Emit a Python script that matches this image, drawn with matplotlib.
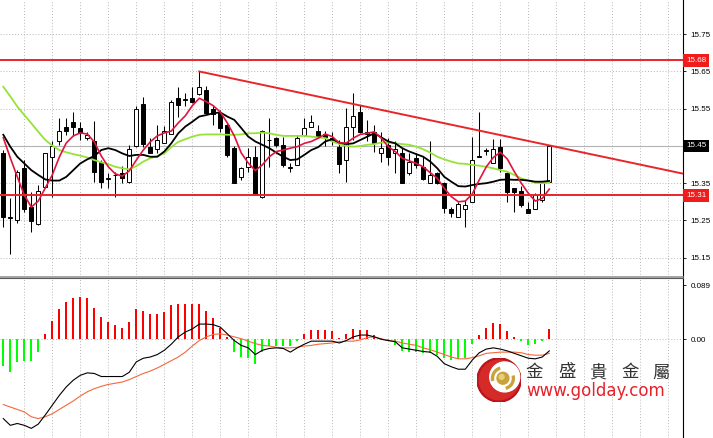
import numpy as np
import matplotlib
matplotlib.use('Agg')
import matplotlib.pyplot as plt
from matplotlib.patches import Rectangle, Circle, Arc

# candle data (one bar per slot)
opens = [15.432, 15.256, 15.251, 15.392, 15.287, 15.240, 15.341, 15.420, 15.462, 15.502,
         15.515, 15.499, 15.471, 15.462, 15.408, 15.362, 15.371, 15.377, 15.352, 15.450,
         15.562, 15.446, 15.441, 15.459, 15.482, 15.578, 15.573, 15.578, 15.589, 15.600,
         15.549, 15.538, 15.506, 15.445, 15.367, 15.394, 15.421, 15.312, 15.465, 15.472,
         15.453, 15.392, 15.399, 15.480, 15.502, 15.490, 15.482, 15.469, 15.448, 15.411,
         15.502, 15.542, 15.482, 15.488, 15.430, 15.453, 15.430, 15.430, 15.377, 15.417,
         15.394, 15.351, 15.377, 15.350, 15.280, 15.260, 15.280, 15.300, 15.420, 15.436,
         15.403, 15.448, 15.377, 15.336, 15.329, 15.280, 15.280, 15.305, 15.354]
highs = [15.439, 15.310, 15.385, 15.412, 15.327, 15.345, 15.432, 15.462, 15.524, 15.524,
         15.540, 15.515, 15.488, 15.518, 15.412, 15.377, 15.381, 15.396, 15.453, 15.556,
         15.581, 15.471, 15.506, 15.504, 15.574, 15.609, 15.592, 15.607, 15.650, 15.611,
         15.556, 15.547, 15.511, 15.450, 15.394, 15.444, 15.450, 15.493, 15.524, 15.475,
         15.475, 15.403, 15.480, 15.524, 15.533, 15.506, 15.491, 15.488, 15.466, 15.551,
         15.592, 15.560, 15.520, 15.506, 15.488, 15.471, 15.462, 15.444, 15.430, 15.430,
         15.421, 15.462, 15.381, 15.354, 15.287, 15.300, 15.305, 15.475, 15.542, 15.444,
         15.468, 15.468, 15.381, 15.336, 15.342, 15.300, 15.323, 15.350, 15.450]
lows = [15.233, 15.160, 15.243, 15.273, 15.220, 15.238, 15.336, 15.314, 15.453, 15.480,
        15.477, 15.466, 15.466, 15.354, 15.336, 15.336, 15.314, 15.350, 15.350, 15.447,
        15.448, 15.430, 15.430, 15.457, 15.482, 15.527, 15.558, 15.565, 15.587, 15.538,
        15.506, 15.488, 15.421, 15.350, 15.359, 15.381, 15.318, 15.309, 15.394, 15.448,
        15.394, 15.381, 15.399, 15.477, 15.502, 15.471, 15.450, 15.453, 15.377, 15.354,
        15.466, 15.486, 15.462, 15.435, 15.408, 15.399, 15.377, 15.350, 15.372, 15.390,
        15.359, 15.350, 15.348, 15.269, 15.260, 15.260, 15.233, 15.300, 15.421, 15.426,
        15.403, 15.381, 15.300, 15.273, 15.287, 15.271, 15.280, 15.300, 15.354]
closes = [15.258, 15.260, 15.379, 15.281, 15.248, 15.329, 15.430, 15.450, 15.490, 15.490,
          15.502, 15.484, 15.480, 15.381, 15.354, 15.364, 15.373, 15.363, 15.441, 15.549,
          15.455, 15.430, 15.466, 15.490, 15.569, 15.560, 15.575, 15.569, 15.609, 15.538,
          15.536, 15.498, 15.426, 15.351, 15.390, 15.421, 15.318, 15.490, 15.467, 15.453,
          15.399, 15.394, 15.471, 15.498, 15.515, 15.473, 15.473, 15.471, 15.402, 15.502,
          15.531, 15.488, 15.488, 15.457, 15.444, 15.421, 15.441, 15.350, 15.408, 15.399,
          15.361, 15.372, 15.351, 15.283, 15.269, 15.294, 15.291, 15.412, 15.422, 15.438,
          15.441, 15.390, 15.327, 15.327, 15.291, 15.271, 15.318, 15.350, 15.449]

# moving averages
ma_red = [15.472, 15.418, 15.367, 15.318, 15.286, 15.302, 15.337, 15.372, 15.420, 15.458,
          15.477, 15.485, 15.482, 15.461, 15.423, 15.394, 15.375, 15.369, 15.383, 15.412,
          15.439, 15.461, 15.477, 15.485, 15.490, 15.512, 15.531, 15.558, 15.578, 15.569,
          15.558, 15.541, 15.512, 15.477, 15.431, 15.404, 15.384, 15.399, 15.421, 15.435,
          15.439, 15.444, 15.448, 15.457, 15.462, 15.471, 15.482, 15.475, 15.458, 15.458,
          15.471, 15.481, 15.484, 15.488, 15.471, 15.448, 15.435, 15.417, 15.410, 15.403,
          15.394, 15.378, 15.363, 15.336, 15.314, 15.300, 15.302, 15.321, 15.359, 15.394,
          15.419, 15.433, 15.415, 15.381, 15.350, 15.323, 15.302, 15.309, 15.334]
ma_black = [15.480, 15.448, 15.421, 15.403, 15.385, 15.372, 15.360, 15.357, 15.357, 15.367,
            15.385, 15.403, 15.414, 15.423, 15.439, 15.444, 15.439, 15.430, 15.423, 15.426,
            15.426, 15.421, 15.421, 15.435, 15.457, 15.484, 15.502, 15.515, 15.529, 15.533,
            15.538, 15.540, 15.529, 15.520, 15.498, 15.475, 15.462, 15.453, 15.444, 15.432,
            15.421, 15.412, 15.414, 15.426, 15.439, 15.447, 15.462, 15.468, 15.459, 15.455,
            15.457, 15.466, 15.475, 15.484, 15.473, 15.462, 15.457, 15.444, 15.435, 15.428,
            15.421, 15.408, 15.390, 15.367, 15.354, 15.342, 15.341, 15.345, 15.348, 15.350,
            15.354, 15.359, 15.360, 15.359, 15.359, 15.357, 15.354, 15.354, 15.356]
ma_green = [15.609, 15.583, 15.556, 15.533, 15.511, 15.488, 15.466, 15.451, 15.439, 15.433,
            15.428, 15.424, 15.419, 15.412, 15.406, 15.401, 15.394, 15.390, 15.387, 15.396,
            15.408, 15.417, 15.423, 15.430, 15.447, 15.461, 15.468, 15.475, 15.480, 15.481,
            15.481, 15.481, 15.480, 15.480, 15.481, 15.484, 15.484, 15.486, 15.484, 15.480,
            15.477, 15.477, 15.477, 15.477, 15.475, 15.473, 15.471, 15.462, 15.455, 15.450,
            15.448, 15.450, 15.453, 15.455, 15.459, 15.459, 15.457, 15.455, 15.453, 15.448,
            15.441, 15.432, 15.421, 15.414, 15.408, 15.403, 15.402, 15.399, 15.397, 15.394,
            15.390, 15.385, 15.381, 15.372, 15.363, 15.357, 15.351, 15.350, 15.351]

# MACD panel
macd_hist = [-0.044, -0.054, -0.037, -0.036, -0.036, -0.021, 0.008, 0.030, 0.049, 0.061,
             0.068, 0.069, 0.068, 0.052, 0.037, 0.028, 0.023, 0.019, 0.028, 0.049,
             0.047, 0.042, 0.042, 0.044, 0.056, 0.058, 0.058, 0.058, 0.058, 0.046,
             0.035, 0.019, 0.003, -0.021, -0.029, -0.030, -0.041, -0.021, -0.011, -0.011,
             -0.011, -0.011, -0.003, 0.008, 0.015, 0.015, 0.015, 0.014, 0.002, 0.009,
             0.017, 0.015, 0.015, 0.007, 0.002, -0.003, -0.010, -0.019, -0.020, -0.021,
             -0.022, -0.023, -0.026, -0.031, -0.034, -0.033, -0.030, -0.008, 0.007, 0.019,
             0.027, 0.025, 0.014, 0.004, -0.003, -0.010, -0.008, -0.003, 0.017]
macd_main = [-0.130, -0.141, -0.138, -0.141, -0.146, -0.139, -0.124, -0.108, -0.092, -0.078,
             -0.067, -0.059, -0.055, -0.056, -0.061, -0.061, -0.061, -0.061, -0.054, -0.037,
             -0.031, -0.029, -0.025, -0.018, -0.008, 0.004, 0.012, 0.017, 0.025, 0.025,
             0.024, 0.020, 0.009, -0.002, -0.010, -0.014, -0.025, -0.018, -0.015, -0.014,
             -0.015, -0.021, -0.014, -0.008, -0.003, -0.003, -0.003, -0.003, -0.006, -0.002,
             0.004, 0.007, 0.007, 0.004, 0.000, -0.002, -0.004, -0.014, -0.016, -0.018,
             -0.020, -0.021, -0.028, -0.040, -0.045, -0.049, -0.049, -0.034, -0.022, -0.016,
             -0.014, -0.016, -0.019, -0.023, -0.027, -0.031, -0.032, -0.029, -0.019]
macd_signal = [-0.107, -0.111, -0.115, -0.119, -0.127, -0.130, -0.127, -0.122, -0.115, -0.108,
               -0.101, -0.093, -0.086, -0.081, -0.077, -0.074, -0.072, -0.070, -0.066, -0.061,
               -0.056, -0.052, -0.047, -0.041, -0.035, -0.029, -0.021, -0.011, -0.002, 0.004,
               0.008, 0.009, 0.007, 0.004, 0.001, -0.003, -0.007, -0.010, -0.011, -0.013,
               -0.014, -0.014, -0.013, -0.011, -0.010, -0.008, -0.007, -0.006, -0.004, -0.003,
               -0.003, -0.001, 0.003, 0.004, 0.001, -0.002, -0.003, -0.006, -0.008, -0.010,
               -0.014, -0.017, -0.021, -0.025, -0.029, -0.032, -0.032, -0.030, -0.027, -0.023,
               -0.022, -0.021, -0.021, -0.021, -0.022, -0.025, -0.026, -0.026, -0.023]

price_ticks = [15.15, 15.25, 15.35, 15.45, 15.55, 15.65, 15.75]
resist_level = 15.68
support_level = 15.317
last_price = 15.45
trend_x = [28, 97]
trend_y = [15.650, 15.376]
macd_ticks = [0.0, 0.089]
macd_labels = ['0.00', '0.089']

W, H = 713, 438
fig = plt.figure(figsize=(W / 100, H / 100), dpi=100)
fig.patch.set_facecolor('white')

plot_w = 683 / W
ax = fig.add_axes([0, 1 - 277 / H, plot_w, 277 / H])
mx = fig.add_axes([0, 0, plot_w, 159 / H])

x = np.arange(len(closes))
grid_x = np.arange(3, 97, 4)
lab_font = dict(family='Liberation Sans', size=5.8)

for a in (ax, mx):
    a.set_xlim(-0.47, 97.1)
    a.set_facecolor('white')
    for s in ('left', 'top', 'bottom'):
        a.spines[s].set_visible(False)
    a.spines['right'].set_color('black')
    a.spines['right'].set_linewidth(0.8)
    a.set_xticks(grid_x)
    a.tick_params(axis='x', length=0, labelbottom=False)
    a.xaxis.grid(True, color='#b8b8b8', ls=(0, (1, 2)), lw=0.7)
    a.yaxis.tick_right()
    a.tick_params(axis='y', length=2.5, width=0.6, pad=3, labelsize=5.8)

# ---- price panel ----
ax.set_ylim(15.098, 15.842)
ax.set_yticks(price_ticks)
# the current-price box carries the 15.45 text
ax.set_yticklabels(['' if p == last_price else '%.2f' % p for p in price_ticks],
                   fontfamily='Liberation Sans')
ax.yaxis.grid(True, color='#b8b8b8', ls=(0, (1, 2)), lw=0.7)
ax.set_axisbelow(True)

ax.axhline(last_price, color='#b4b4b4', lw=0.8, zorder=1)

for i in x:
    o, h, l, c = opens[i], highs[i], lows[i], closes[i]
    ax.vlines(i, l, h, color='black', lw=0.75, zorder=2)
    face = 'white' if c >= o else 'black'
    ax.add_patch(Rectangle((i - 0.29, min(o, c)), 0.58, max(abs(c - o), 0.0008),
                           facecolor=face, edgecolor='black', lw=0.7, zorder=3))

ax.plot(x, ma_green, color='#96e336', lw=1.3, zorder=4)
ax.plot(x, ma_black, color='black', lw=1.3, zorder=5)
ax.plot(x, ma_red, color='#e0143c', lw=1.2, zorder=6)

ax.axhline(resist_level, color='#e8262a', lw=1.4, zorder=7)
ax.axhline(support_level, color='#e8262a', lw=1.4, zorder=7)
ax.plot(trend_x, trend_y, color='#e8262a', lw=1.4, zorder=7, clip_on=False)

ytr = ax.get_yaxis_transform()
for val, txt, bg in [(resist_level, '15.68', '#f01c1c'),
                     (support_level, '15.31', '#f01c1c'),
                     (last_price, '15.45', 'black')]:
    ax.text(1.0045, val, txt, transform=ytr, ha='left', va='center', color='white',
            fontdict=lab_font, zorder=10, clip_on=False,
            bbox=dict(boxstyle='square,pad=0.35', fc=bg, ec='none'))

# ---- MACD panel ----
mx.set_ylim(-0.1618, 0.0989)
mx.set_yticks(macd_ticks)
mx.set_yticklabels(macd_labels, fontfamily='Liberation Sans')
mx.axhline(0, color='#b8b8b8', ls=(0, (1, 2)), lw=0.7, zorder=1)
bar_colors = ['#ff0000' if v >= 0 else '#00ff00' for v in macd_hist]
mx.bar(x, macd_hist, width=0.34, color=bar_colors, zorder=2)
mx.plot(x, macd_signal, color='#f4683c', lw=0.8, zorder=3)
mx.plot(x, macd_main, color='black', lw=0.8, zorder=4)

# panel separator
fig.add_artist(plt.Line2D([0, plot_w], [1 - 276.5 / H] * 2, color='#8c8c8c', lw=1.1))
fig.add_artist(plt.Line2D([0, plot_w], [1 - 278.3 / H] * 2, color='#5a5a5a', lw=0.8))

# ---- watermark logo ----
logo = fig.add_axes([477 / W, 1 - 402 / H, 44 / W, 44 / H])
logo.set_xlim(-1, 1)
logo.set_ylim(-1, 1)
logo.set_aspect('equal')
logo.axis('off')
logo.add_patch(Circle((0, 0), 1.0, color='#b9141c'))
logo.add_patch(Circle((0.0, 0.0), 0.9, color='#d42a28'))
logo.add_patch(Circle((0.26, 0.14), 0.68, color='white'))
logo.add_patch(Circle((0.18, 0.08), 0.27, color='#c9a23a'))
logo.add_patch(Circle((0.12, 0.14), 0.11, color='#e6cf7a'))
logo.add_patch(Arc((0.18, 0.08), 0.95, 0.95, theta1=105, theta2=195, color='#c9a23a', lw=2.4))
logo.add_patch(Arc((0.18, 0.08), 0.95, 0.95, theta1=285, theta2=15, color='#c9a23a', lw=2.4))

for cx, ch in zip([534, 566.5, 598, 630, 661], '金盛貴金屬'):
    fig.text(cx / W, 1 - 372.5 / H, ch, ha='center', va='center', fontsize=12.5,
             family=['Noto Sans CJK TC', 'DejaVu Sans'], color='#333333')
fig.text(526 / W, 1 - 391 / H, 'www.golday.com', ha='left', va='center', fontsize=12,
         family='DejaVu Sans', color='#e8202a')

fig.savefig('out.png', dpi=100, facecolor='white')
